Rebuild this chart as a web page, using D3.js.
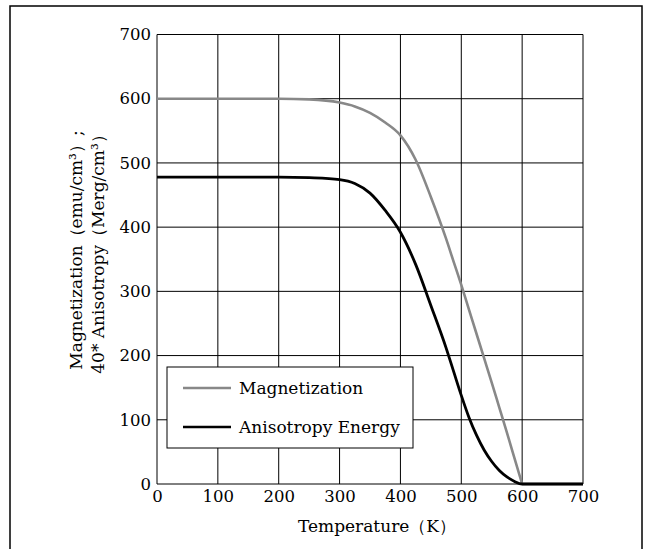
<!DOCTYPE html>
<html>
<head>
<meta charset="utf-8">
<script src="https://cdn.jsdelivr.net/npm/d3@7"></script>
<style>
  body { margin: 0; background: #fff; }
  svg { display: block; }
  text { font-family: "DejaVu Serif", "Liberation Serif", serif; fill: #000; }
</style>
</head>
<body>
<script>
var width = 646,
    height = 549;

// temperature (K)
var temps = [0, 50, 100, 150, 200, 250, 300, 325, 350, 375, 400, 425, 450, 475, 487.5, 500, 512.5, 525, 537.5, 550, 562.5, 575, 587.5, 600, 650, 700];
// magnetization (emu/cm3)
var magnetization = [600, 600, 600, 600, 600, 599, 594, 588, 578, 563, 543, 505, 447, 382, 346, 310, 272, 234, 196, 158, 119, 80, 40, 0, 0, 0];
// 40 * anisotropy energy (Merg/cm3)
var anisotropy = [478, 478, 478, 478, 478, 477, 474, 468, 453, 426, 392, 342, 278, 212, 175, 138, 104, 76, 53, 35, 21, 11, 4, 0, 0, 0];

var xTicks = [0, 100, 200, 300, 400, 500, 600, 700];
var yTicks = [0, 100, 200, 300, 400, 500, 600, 700];

var seriesNames = ["Magnetization", "Anisotropy Energy"];
var seriesColors = ["#888888", "#000000"];

var svg = d3.select("body")
    .append("svg")
    .attr("width", width)
    .attr("height", height);

// outer frame (bottom edge runs off the picture)
svg.append("rect")
    .attr("x", 10)
    .attr("y", 6)
    .attr("width", 632)
    .attr("height", 600)
    .attr("fill", "none")
    .attr("stroke", "#000")
    .attr("stroke-width", 1.5);

var x = d3.scaleLinear().domain([0, 700]).range([157, 583]);
var y = d3.scaleLinear().domain([0, 700]).range([484, 34.5]);

// grid
var grid = svg.append("g").attr("class", "grid");
grid.selectAll("line.v")
    .data(xTicks)
    .enter().append("line")
    .attr("class", "v")
    .attr("x1", function (d) { return x(d); })
    .attr("x2", function (d) { return x(d); })
    .attr("y1", y(0))
    .attr("y2", y(700))
    .attr("stroke", "#000")
    .attr("stroke-width", 1);

grid.selectAll("line.h")
    .data(yTicks)
    .enter().append("line")
    .attr("class", "h")
    .attr("x1", x(0))
    .attr("x2", x(700))
    .attr("y1", function (d) { return y(d); })
    .attr("y2", function (d) { return y(d); })
    .attr("stroke", "#000")
    .attr("stroke-width", 1);

// axes (labels only)
var xAxis = d3.axisBottom(x).tickValues(xTicks).tickSize(0).tickPadding(6);
var yAxis = d3.axisLeft(y).tickValues(yTicks).tickSize(0).tickPadding(6);

svg.append("g")
    .attr("transform", "translate(0," + y(0) + ")")
    .call(xAxis)
    .call(function (g) { g.select(".domain").remove(); })
    .selectAll("text")
    .style("font-family", "DejaVu Serif")
    .style("font-size", "16.5px")
    .attr("fill", "#000");

svg.append("g")
    .attr("transform", "translate(" + x(0) + ",0)")
    .call(yAxis)
    .call(function (g) { g.select(".domain").remove(); })
    .selectAll("text")
    .style("font-family", "DejaVu Serif")
    .style("font-size", "16.5px")
    .attr("fill", "#000");

// curves
var data = temps.map(function (t, i) {
    return { t: t, m: magnetization[i], k: anisotropy[i] };
});

var lineM = d3.line()
    .x(function (d) { return x(d.t); })
    .y(function (d) { return y(d.m); })
    .curve(d3.curveMonotoneX);

var lineK = d3.line()
    .x(function (d) { return x(d.t); })
    .y(function (d) { return y(d.k); })
    .curve(d3.curveMonotoneX);

// magnetization drops straight into Tc, so draw it in two pieces
var belowTc = data.filter(function (d) { return d.t <= 600; });
var aboveTc = data.filter(function (d) { return d.t >= 600; });

svg.selectAll("path.mag")
    .data([belowTc, aboveTc])
    .enter().append("path")
    .attr("class", "mag")
    .attr("d", lineM)
    .attr("fill", "none")
    .attr("stroke", seriesColors[0])
    .attr("stroke-width", 2.6);

svg.append("path")
    .datum(data)
    .attr("d", lineK)
    .attr("fill", "none")
    .attr("stroke", seriesColors[1])
    .attr("stroke-width", 2.8);

// axis titles
svg.append("text")
    .attr("x", 377)
    .attr("y", 532)
    .attr("text-anchor", "middle")
    .style("font-size", "17px")
    .text("Temperature（K）");

var yTitle = svg.append("text")
    .attr("transform", "translate(0,250) rotate(-90)")
    .attr("text-anchor", "middle")
    .style("font-size", "17px");

yTitle.append("tspan")
    .attr("x", 0)
    .attr("y", 82)
    .text("Magnetization（emu/cm³）;");

yTitle.append("tspan")
    .attr("x", 0)
    .attr("y", 104)
    .text("40* Anisotropy（Merg/cm³）");

// legend
var legend = svg.append("g").attr("class", "legend");
legend.append("rect")
    .attr("x", 167)
    .attr("y", 367)
    .attr("width", 246)
    .attr("height", 81)
    .attr("fill", "#fff")
    .attr("stroke", "#000")
    .attr("stroke-width", 1);

var item = legend.selectAll("g.item")
    .data(seriesNames)
    .enter().append("g")
    .attr("class", "item")
    .attr("transform", function (d, i) { return "translate(0," + (388 + i * 39) + ")"; });

item.append("line")
    .attr("x1", 183)
    .attr("x2", 231)
    .attr("stroke", function (d, i) { return seriesColors[i]; })
    .attr("stroke-width", 2.6);

item.append("text")
    .attr("x", 239)
    .attr("y", 6)
    .style("font-size", "17px")
    .text(function (d) { return d; });
</script>
</body>
</html>
